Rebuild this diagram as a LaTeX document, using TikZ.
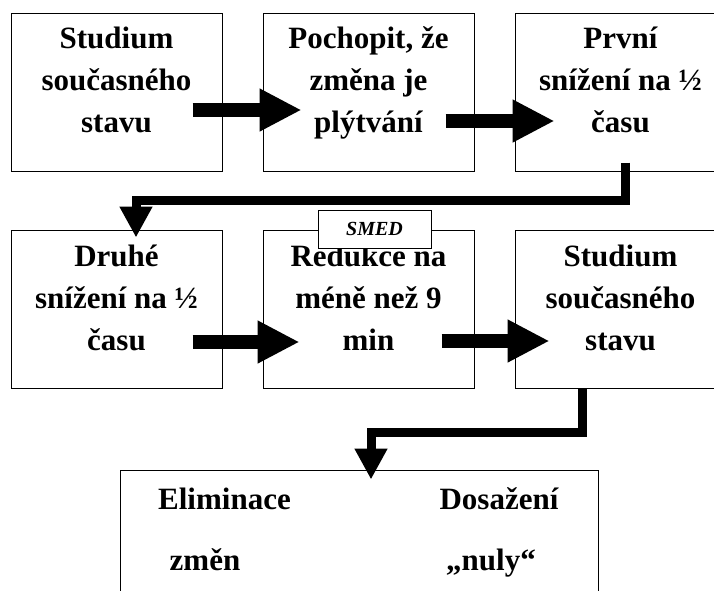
\documentclass[tikz,border=0pt]{standalone}
\usepackage{fontspec}
\setmainfont{Liberation Serif}
\usetikzlibrary{positioning,calc,arrows.meta}

\tikzset{
  stage/.style={draw, line width=1pt, minimum width=211pt, minimum height=158pt, inner sep=0pt},
  stagetext/.style={align=center, inner sep=0pt, font=\fontsize{31}{42}\selectfont\bfseries},
  goaltext/.style={anchor=base, inner sep=0pt, font=\fontsize{31}{36}\selectfont\bfseries},
  smedbox/.style={draw, fill=white, line width=1pt, minimum width=113pt, minimum height=38pt, inner sep=0pt, font=\fontsize{20}{24}\selectfont\bfseries\itshape},
  block/.style={line width=14pt, -{Triangle[width=40pt,length=42pt]}},
  elbow/.style={line width=9pt, line join=miter, -{Triangle[width=31pt,length=31pt]}},
}

\newcommand{\firstline}{\rule{0pt}{24pt}}

\begin{document}
\begin{tikzpicture}[x=1pt, y=-1pt]

    \useasboundingbox (0,0) rectangle (714,590);
    \clip (0,0) rectangle (714,590);

    % first row
    \node[stage] (a) at (116.5, 92) {};
    \node[stage] (b) at (368.5, 92) {};
    \node[stage] (c) at (620.5, 92) {};
    \node[stagetext, below=12pt of a.north] (ta) {\firstline Studium\\současného\\stavu};
    \node[stagetext, below=12pt of b.north] (tb) {\firstline Pochopit, že\\změna je\\plýtvání};
    \node[stagetext, below=12pt of c.north] (tc) {\firstline První\\snížení na ½\\času};

    % second row
    \node[stage] (d) at (116.5, 309) {};
    \node[stage] (e) at (368.5, 309) {};
    \node[stage] (f) at (620.5, 309) {};
    \node[stagetext, below=13pt of d.north] (td) {\firstline Druhé\\snížení na ½\\času};
    \node[stagetext, below=13pt of e.north] (te) {\firstline Redukce na\\méně než 9\\min};
    \node[stagetext, below=13pt of f.north] (tf) {\firstline Studium\\současného\\stavu};
    \node[smedbox] (s) at (374.5, 229) {SMED};

    % goal
    \node[draw, line width=1pt, minimum width=478pt, minimum height=180pt] (g) at (359, 560) {};
    \node[goaltext] (g1) at (224.5, 509) {Eliminace};
    \node[goaltext] (g2) at (205, 570) {změn};
    \node[goaltext] (g3) at (499, 509) {Dosažení};
    \node[goaltext] (g4) at (491, 570) {„nuly“};

    \draw[block] ($(a.east)+(-30,18)$) -- ($(b.west)+(39,18)$);
    \draw[block] ($(b.east)+(-29,29)$) -- ($(c.west)+(40,29)$);
    \draw[block] ($(d.east)+(-30,33)$) -- ($(e.west)+(37,33)$);
    \draw[block] ($(e.east)+(-33,32)$) -- ($(f.west)+(35,32)$);
    \draw[elbow] ($(c.south)+(5,-9)$) |- ($(d.north)+(19.5,-29)$) -- ($(d.north)+(19.5,8)$);
    \draw[elbow] ($(f.south)+(-38.5,0)$) |- ($(g.north)+(12,-37)$) -- ($(g.north)+(12,10)$);

\end{tikzpicture}
\end{document}
